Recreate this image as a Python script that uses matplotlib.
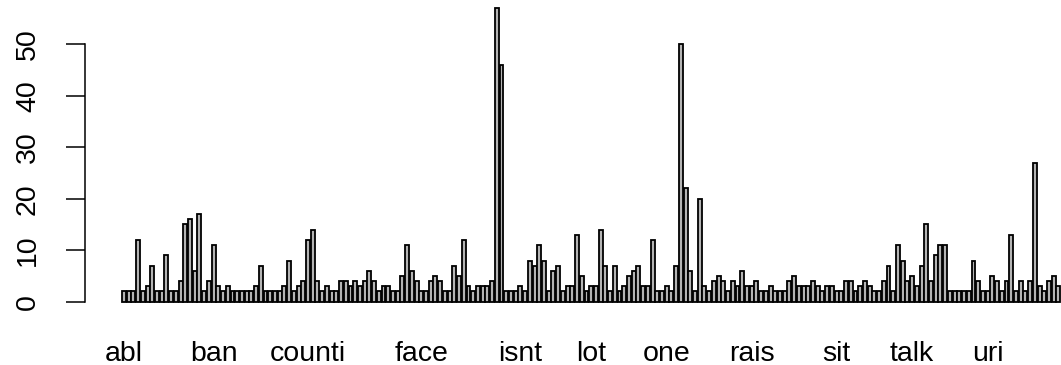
import matplotlib
matplotlib.use("Agg")
import matplotlib.pyplot as plt
import numpy as np

# word frequencies (one bar per stemmed term)
values = [
    2, 2, 2, 12, 2, 3, 7, 2, 2, 9,
    2, 2, 4, 15, 16, 6, 17, 2, 4, 11,
    3, 2, 3, 2, 2, 2, 2, 2, 3, 7,
    2, 2, 2, 2, 3, 8, 2, 3, 4, 12,
    14, 4, 2, 3, 2, 2, 4, 4, 3, 4,
    3, 4, 6, 4, 2, 3, 3, 2, 2, 5,
    11, 6, 4, 2, 2, 4, 5, 4, 2, 2,
    7, 5, 12, 3, 2, 3, 3, 3, 4, 57,
    46, 2, 2, 2, 3, 2, 8, 7, 11, 8,
    2, 6, 7, 2, 3, 3, 13, 5, 2, 3,
    3, 14, 7, 2, 7, 2, 3, 5, 6, 7,
    3, 3, 12, 2, 2, 3, 2, 7, 50, 22,
    6, 2, 20, 3, 2, 4, 5, 4, 2, 4,
    3, 6, 3, 3, 4, 2, 2, 3, 2, 2,
    2, 4, 5, 3, 3, 3, 4, 3, 2, 3,
    3, 2, 2, 4, 4, 2, 3, 4, 3, 2,
    2, 4, 7, 2, 11, 8, 4, 5, 3, 7,
    15, 4, 9, 11, 11, 2, 2, 2, 2, 2,
    8, 4, 2, 2, 5, 4, 2, 4, 13, 2,
    4, 2, 4, 27, 3, 2, 4, 5, 3,
]

# labels that are visible under the bars, and the bar they belong to
shown_labels = ["abl", "ban", "counti", "face", "isnt", "lot",
                "one", "rais", "sit", "talk", "uri"]
label_positions = [0, 19, 39, 63, 84, 99, 115, 133, 151, 167, 183]

y_ticks = [0, 10, 20, 30, 40, 50]

plt.rcParams["font.family"] = ["Liberation Sans", "DejaVu Sans"]

n = len(values)
x = 0.7 + 1.2 * np.arange(n)

fig = plt.figure(figsize=(10.61, 3.65), dpi=100)
ax = fig.add_axes([85 / 1061, 55 / 365, 976 / 1061, 310 / 365])

ax.bar(x, values, width=1.0, color="#b4b4b4", edgecolor="black",
       linewidth=1.3)

ax.set_xlim(-9.2, 238.95)
ax.set_ylim(-1.61, 58.6)

for s in ["top", "right", "bottom"]:
    ax.spines[s].set_visible(False)
ax.spines["left"].set_bounds(0, 50)
ax.spines["left"].set_linewidth(1.1)

ax.set_yticks(y_ticks)
ax.set_yticklabels([str(v) for v in y_ticks], fontsize=20.5)
ax.tick_params(axis="y", length=13.7, width=1.1, pad=18, labelrotation=90,
               direction="out")
for t in ax.get_yticklabels():
    t.set_va("center")

ax.set_xticks(x[label_positions])
ax.set_xticklabels(shown_labels, fontsize=20.5)
ax.tick_params(axis="x", length=0, pad=22)

fig.savefig("out.png", dpi=100)
